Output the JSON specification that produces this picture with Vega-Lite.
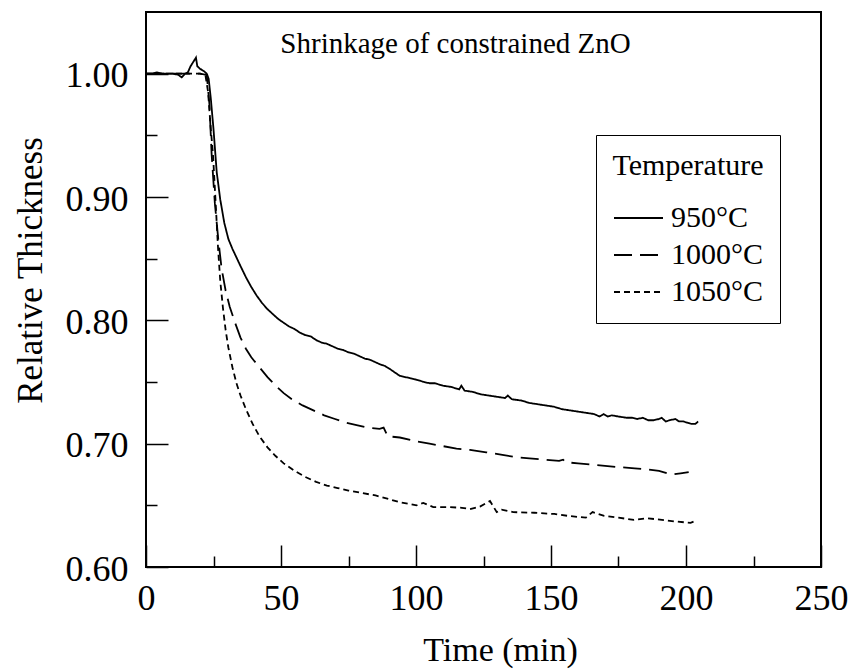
{
  "$schema": "https://vega.github.io/schema/vega-lite/v6.json",
  "width": 675,
  "height": 555,
  "autosize": {"type": "none"},
  "padding": {"left": 146, "top": 12, "right": 31, "bottom": 104},
  "config": {
    "font": "Liberation Serif",
    "view": {"stroke": "#000", "strokeWidth": 2}
  },
  "title": {
    "text": "Shrinkage of constrained ZnO",
    "font": "Liberation Serif",
    "fontSize": 29,
    "fontWeight": "normal",
    "color": "#000",
    "anchor": "middle",
    "frame": "group",
    "baseline": "alphabetic",
    "offset": 0,
    "dx": -28,
    "dy": 70
  },
  "datasets": {
    "curves": [
      {"time": 0, "thickness": 1.000, "temperature": "950°C"},
      {"time": 2, "thickness": 1.000, "temperature": "950°C"},
      {"time": 4, "thickness": 1.001, "temperature": "950°C"},
      {"time": 6, "thickness": 1.000, "temperature": "950°C"},
      {"time": 8, "thickness": 1.000, "temperature": "950°C"},
      {"time": 10, "thickness": 1.000, "temperature": "950°C"},
      {"time": 12, "thickness": 0.999, "temperature": "950°C"},
      {"time": 13.2, "thickness": 0.997, "temperature": "950°C"},
      {"time": 14.5, "thickness": 1.000, "temperature": "950°C"},
      {"time": 15.5, "thickness": 1.001, "temperature": "950°C"},
      {"time": 16.5, "thickness": 1.006, "temperature": "950°C"},
      {"time": 18.5, "thickness": 1.013, "temperature": "950°C"},
      {"time": 19, "thickness": 1.006, "temperature": "950°C"},
      {"time": 20, "thickness": 1.004, "temperature": "950°C"},
      {"time": 21.5, "thickness": 1.002, "temperature": "950°C"},
      {"time": 22.5, "thickness": 1.000, "temperature": "950°C"},
      {"time": 23.2, "thickness": 0.996, "temperature": "950°C"},
      {"time": 24, "thickness": 0.980, "temperature": "950°C"},
      {"time": 25, "thickness": 0.955, "temperature": "950°C"},
      {"time": 26.2, "thickness": 0.920, "temperature": "950°C"},
      {"time": 27.5, "thickness": 0.898, "temperature": "950°C"},
      {"time": 29, "thickness": 0.879, "temperature": "950°C"},
      {"time": 30.5, "thickness": 0.866, "temperature": "950°C"},
      {"time": 32, "thickness": 0.858, "temperature": "950°C"},
      {"time": 33.5, "thickness": 0.851, "temperature": "950°C"},
      {"time": 35, "thickness": 0.844, "temperature": "950°C"},
      {"time": 37, "thickness": 0.835, "temperature": "950°C"},
      {"time": 39, "thickness": 0.827, "temperature": "950°C"},
      {"time": 41, "thickness": 0.820, "temperature": "950°C"},
      {"time": 43, "thickness": 0.814, "temperature": "950°C"},
      {"time": 45, "thickness": 0.809, "temperature": "950°C"},
      {"time": 47, "thickness": 0.805, "temperature": "950°C"},
      {"time": 49, "thickness": 0.801, "temperature": "950°C"},
      {"time": 51, "thickness": 0.798, "temperature": "950°C"},
      {"time": 53, "thickness": 0.795, "temperature": "950°C"},
      {"time": 55, "thickness": 0.793, "temperature": "950°C"},
      {"time": 57, "thickness": 0.790, "temperature": "950°C"},
      {"time": 59, "thickness": 0.788, "temperature": "950°C"},
      {"time": 61, "thickness": 0.787, "temperature": "950°C"},
      {"time": 63, "thickness": 0.784, "temperature": "950°C"},
      {"time": 65, "thickness": 0.782, "temperature": "950°C"},
      {"time": 67, "thickness": 0.781, "temperature": "950°C"},
      {"time": 69, "thickness": 0.779, "temperature": "950°C"},
      {"time": 71, "thickness": 0.777, "temperature": "950°C"},
      {"time": 73, "thickness": 0.776, "temperature": "950°C"},
      {"time": 75, "thickness": 0.774, "temperature": "950°C"},
      {"time": 77, "thickness": 0.773, "temperature": "950°C"},
      {"time": 79, "thickness": 0.771, "temperature": "950°C"},
      {"time": 81, "thickness": 0.769, "temperature": "950°C"},
      {"time": 83, "thickness": 0.768, "temperature": "950°C"},
      {"time": 85, "thickness": 0.766, "temperature": "950°C"},
      {"time": 87, "thickness": 0.764, "temperature": "950°C"},
      {"time": 88.5, "thickness": 0.763, "temperature": "950°C"},
      {"time": 90, "thickness": 0.761, "temperature": "950°C"},
      {"time": 92, "thickness": 0.758, "temperature": "950°C"},
      {"time": 94, "thickness": 0.755, "temperature": "950°C"},
      {"time": 96, "thickness": 0.754, "temperature": "950°C"},
      {"time": 98, "thickness": 0.753, "temperature": "950°C"},
      {"time": 100, "thickness": 0.752, "temperature": "950°C"},
      {"time": 103, "thickness": 0.750, "temperature": "950°C"},
      {"time": 105, "thickness": 0.749, "temperature": "950°C"},
      {"time": 107, "thickness": 0.749, "temperature": "950°C"},
      {"time": 110, "thickness": 0.747, "temperature": "950°C"},
      {"time": 113, "thickness": 0.746, "temperature": "950°C"},
      {"time": 116, "thickness": 0.744, "temperature": "950°C"},
      {"time": 116.8, "thickness": 0.747, "temperature": "950°C"},
      {"time": 118, "thickness": 0.743, "temperature": "950°C"},
      {"time": 121, "thickness": 0.742, "temperature": "950°C"},
      {"time": 124, "thickness": 0.740, "temperature": "950°C"},
      {"time": 127, "thickness": 0.739, "temperature": "950°C"},
      {"time": 130, "thickness": 0.738, "temperature": "950°C"},
      {"time": 133, "thickness": 0.737, "temperature": "950°C"},
      {"time": 134, "thickness": 0.739, "temperature": "950°C"},
      {"time": 135.5, "thickness": 0.736, "temperature": "950°C"},
      {"time": 139, "thickness": 0.735, "temperature": "950°C"},
      {"time": 142, "thickness": 0.733, "temperature": "950°C"},
      {"time": 145, "thickness": 0.732, "temperature": "950°C"},
      {"time": 148, "thickness": 0.731, "temperature": "950°C"},
      {"time": 151, "thickness": 0.730, "temperature": "950°C"},
      {"time": 154, "thickness": 0.728, "temperature": "950°C"},
      {"time": 157, "thickness": 0.727, "temperature": "950°C"},
      {"time": 160, "thickness": 0.726, "temperature": "950°C"},
      {"time": 163, "thickness": 0.725, "temperature": "950°C"},
      {"time": 166, "thickness": 0.724, "temperature": "950°C"},
      {"time": 168, "thickness": 0.722, "temperature": "950°C"},
      {"time": 169.5, "thickness": 0.724, "temperature": "950°C"},
      {"time": 171, "thickness": 0.722, "temperature": "950°C"},
      {"time": 172.5, "thickness": 0.723, "temperature": "950°C"},
      {"time": 175, "thickness": 0.722, "temperature": "950°C"},
      {"time": 178, "thickness": 0.721, "temperature": "950°C"},
      {"time": 180, "thickness": 0.721, "temperature": "950°C"},
      {"time": 182, "thickness": 0.720, "temperature": "950°C"},
      {"time": 184, "thickness": 0.721, "temperature": "950°C"},
      {"time": 186, "thickness": 0.719, "temperature": "950°C"},
      {"time": 188, "thickness": 0.719, "temperature": "950°C"},
      {"time": 190, "thickness": 0.720, "temperature": "950°C"},
      {"time": 191, "thickness": 0.721, "temperature": "950°C"},
      {"time": 192.5, "thickness": 0.718, "temperature": "950°C"},
      {"time": 194, "thickness": 0.719, "temperature": "950°C"},
      {"time": 196, "thickness": 0.720, "temperature": "950°C"},
      {"time": 197.5, "thickness": 0.718, "temperature": "950°C"},
      {"time": 199, "thickness": 0.718, "temperature": "950°C"},
      {"time": 200.5, "thickness": 0.717, "temperature": "950°C"},
      {"time": 202, "thickness": 0.716, "temperature": "950°C"},
      {"time": 203.5, "thickness": 0.716, "temperature": "950°C"},
      {"time": 204.5, "thickness": 0.718, "temperature": "950°C"},

      {"time": 0, "thickness": 1.000, "temperature": "1000°C"},
      {"time": 5, "thickness": 1.000, "temperature": "1000°C"},
      {"time": 10, "thickness": 1.000, "temperature": "1000°C"},
      {"time": 15, "thickness": 1.000, "temperature": "1000°C"},
      {"time": 20, "thickness": 1.000, "temperature": "1000°C"},
      {"time": 22.5, "thickness": 0.999, "temperature": "1000°C"},
      {"time": 23.5, "thickness": 0.975, "temperature": "1000°C"},
      {"time": 24.3, "thickness": 0.935, "temperature": "1000°C"},
      {"time": 25.5, "thickness": 0.895, "temperature": "1000°C"},
      {"time": 26.8, "thickness": 0.865, "temperature": "1000°C"},
      {"time": 28, "thickness": 0.842, "temperature": "1000°C"},
      {"time": 29.5, "thickness": 0.824, "temperature": "1000°C"},
      {"time": 31, "thickness": 0.811, "temperature": "1000°C"},
      {"time": 33, "thickness": 0.798, "temperature": "1000°C"},
      {"time": 35, "thickness": 0.786, "temperature": "1000°C"},
      {"time": 37, "thickness": 0.777, "temperature": "1000°C"},
      {"time": 39, "thickness": 0.770, "temperature": "1000°C"},
      {"time": 42, "thickness": 0.762, "temperature": "1000°C"},
      {"time": 45, "thickness": 0.754, "temperature": "1000°C"},
      {"time": 48, "thickness": 0.747, "temperature": "1000°C"},
      {"time": 51, "thickness": 0.741, "temperature": "1000°C"},
      {"time": 54, "thickness": 0.736, "temperature": "1000°C"},
      {"time": 58, "thickness": 0.731, "temperature": "1000°C"},
      {"time": 62, "thickness": 0.727, "temperature": "1000°C"},
      {"time": 66, "thickness": 0.723, "temperature": "1000°C"},
      {"time": 70, "thickness": 0.720, "temperature": "1000°C"},
      {"time": 74, "thickness": 0.717, "temperature": "1000°C"},
      {"time": 78, "thickness": 0.715, "temperature": "1000°C"},
      {"time": 82, "thickness": 0.713, "temperature": "1000°C"},
      {"time": 86.5, "thickness": 0.712, "temperature": "1000°C"},
      {"time": 88, "thickness": 0.713, "temperature": "1000°C"},
      {"time": 89.5, "thickness": 0.706, "temperature": "1000°C"},
      {"time": 94, "thickness": 0.705, "temperature": "1000°C"},
      {"time": 100, "thickness": 0.702, "temperature": "1000°C"},
      {"time": 105, "thickness": 0.700, "temperature": "1000°C"},
      {"time": 110, "thickness": 0.698, "temperature": "1000°C"},
      {"time": 115, "thickness": 0.696, "temperature": "1000°C"},
      {"time": 120, "thickness": 0.695, "temperature": "1000°C"},
      {"time": 126, "thickness": 0.693, "temperature": "1000°C"},
      {"time": 132, "thickness": 0.691, "temperature": "1000°C"},
      {"time": 137, "thickness": 0.689, "temperature": "1000°C"},
      {"time": 142, "thickness": 0.688, "temperature": "1000°C"},
      {"time": 148, "thickness": 0.687, "temperature": "1000°C"},
      {"time": 153, "thickness": 0.686, "temperature": "1000°C"},
      {"time": 154.5, "thickness": 0.687, "temperature": "1000°C"},
      {"time": 155.5, "thickness": 0.685, "temperature": "1000°C"},
      {"time": 160, "thickness": 0.684, "temperature": "1000°C"},
      {"time": 165, "thickness": 0.683, "temperature": "1000°C"},
      {"time": 170, "thickness": 0.682, "temperature": "1000°C"},
      {"time": 175, "thickness": 0.681, "temperature": "1000°C"},
      {"time": 181, "thickness": 0.680, "temperature": "1000°C"},
      {"time": 186, "thickness": 0.679, "temperature": "1000°C"},
      {"time": 190, "thickness": 0.678, "temperature": "1000°C"},
      {"time": 193, "thickness": 0.676, "temperature": "1000°C"},
      {"time": 195, "thickness": 0.675, "temperature": "1000°C"},
      {"time": 198, "thickness": 0.676, "temperature": "1000°C"},
      {"time": 201, "thickness": 0.677, "temperature": "1000°C"},

      {"time": 0, "thickness": 1.000, "temperature": "1050°C"},
      {"time": 5, "thickness": 1.000, "temperature": "1050°C"},
      {"time": 10, "thickness": 1.000, "temperature": "1050°C"},
      {"time": 15, "thickness": 1.000, "temperature": "1050°C"},
      {"time": 20, "thickness": 1.000, "temperature": "1050°C"},
      {"time": 22, "thickness": 0.999, "temperature": "1050°C"},
      {"time": 23, "thickness": 0.985, "temperature": "1050°C"},
      {"time": 24, "thickness": 0.955, "temperature": "1050°C"},
      {"time": 24.8, "thickness": 0.935, "temperature": "1050°C"},
      {"time": 25.8, "thickness": 0.895, "temperature": "1050°C"},
      {"time": 26.7, "thickness": 0.858, "temperature": "1050°C"},
      {"time": 27.5, "thickness": 0.832, "temperature": "1050°C"},
      {"time": 28.5, "thickness": 0.810, "temperature": "1050°C"},
      {"time": 29.5, "thickness": 0.792, "temperature": "1050°C"},
      {"time": 30.5, "thickness": 0.778, "temperature": "1050°C"},
      {"time": 32, "thickness": 0.762, "temperature": "1050°C"},
      {"time": 33.5, "thickness": 0.749, "temperature": "1050°C"},
      {"time": 35, "thickness": 0.739, "temperature": "1050°C"},
      {"time": 37, "thickness": 0.728, "temperature": "1050°C"},
      {"time": 39.5, "thickness": 0.716, "temperature": "1050°C"},
      {"time": 42, "thickness": 0.706, "temperature": "1050°C"},
      {"time": 45, "thickness": 0.697, "temperature": "1050°C"},
      {"time": 48, "thickness": 0.690, "temperature": "1050°C"},
      {"time": 51, "thickness": 0.684, "temperature": "1050°C"},
      {"time": 55, "thickness": 0.678, "temperature": "1050°C"},
      {"time": 59, "thickness": 0.673, "temperature": "1050°C"},
      {"time": 63, "thickness": 0.669, "temperature": "1050°C"},
      {"time": 67, "thickness": 0.666, "temperature": "1050°C"},
      {"time": 71, "thickness": 0.664, "temperature": "1050°C"},
      {"time": 75, "thickness": 0.662, "temperature": "1050°C"},
      {"time": 80, "thickness": 0.660, "temperature": "1050°C"},
      {"time": 85, "thickness": 0.658, "temperature": "1050°C"},
      {"time": 90, "thickness": 0.655, "temperature": "1050°C"},
      {"time": 94, "thickness": 0.6525, "temperature": "1050°C"},
      {"time": 98, "thickness": 0.651, "temperature": "1050°C"},
      {"time": 100.2, "thickness": 0.650, "temperature": "1050°C"},
      {"time": 102.7, "thickness": 0.652, "temperature": "1050°C"},
      {"time": 106.4, "thickness": 0.6485, "temperature": "1050°C"},
      {"time": 112.6, "thickness": 0.6485, "temperature": "1050°C"},
      {"time": 117, "thickness": 0.648, "temperature": "1050°C"},
      {"time": 120, "thickness": 0.647, "temperature": "1050°C"},
      {"time": 123.7, "thickness": 0.649, "temperature": "1050°C"},
      {"time": 127.4, "thickness": 0.6535, "temperature": "1050°C"},
      {"time": 129.9, "thickness": 0.6445, "temperature": "1050°C"},
      {"time": 131.7, "thickness": 0.6465, "temperature": "1050°C"},
      {"time": 136, "thickness": 0.6445, "temperature": "1050°C"},
      {"time": 143.8, "thickness": 0.644, "temperature": "1050°C"},
      {"time": 151.2, "thickness": 0.643, "temperature": "1050°C"},
      {"time": 156.1, "thickness": 0.6415, "temperature": "1050°C"},
      {"time": 162.9, "thickness": 0.640, "temperature": "1050°C"},
      {"time": 165.4, "thickness": 0.6445, "temperature": "1050°C"},
      {"time": 169.7, "thickness": 0.6415, "temperature": "1050°C"},
      {"time": 175, "thickness": 0.640, "temperature": "1050°C"},
      {"time": 180.7, "thickness": 0.6382, "temperature": "1050°C"},
      {"time": 185.7, "thickness": 0.6395, "temperature": "1050°C"},
      {"time": 191.9, "thickness": 0.638, "temperature": "1050°C"},
      {"time": 195.6, "thickness": 0.637, "temperature": "1050°C"},
      {"time": 201.7, "thickness": 0.6358, "temperature": "1050°C"},
      {"time": 203, "thickness": 0.637, "temperature": "1050°C"}
    ]
  },
  "layer": [
    {
      "data": {"name": "curves"},
      "mark": {"type": "line", "color": "#000", "strokeWidth": 1.8},
      "encoding": {
        "x": {
          "field": "time",
          "type": "quantitative",
          "scale": {"domain": [0, 250], "nice": false, "zero": true},
          "axis": {
            "orient": "bottom",
            "values": [0, 50, 100, 150, 200, 250],
            "domain": false,
            "grid": false,
            "tickSize": -22,
            "tickWidth": 1.5,
            "tickColor": "#000",
            "labelFont": "Liberation Serif",
            "labelFontSize": 36,
            "labelColor": "#000",
            "labelBaseline": "alphabetic",
            "labelPadding": 64,
            "labelFlush": false,
            "labelOverlap": false,
            "title": "Time (min)",
            "titleFont": "Liberation Serif",
            "titleFontSize": 34,
            "titleFontWeight": "normal",
            "titleColor": "#000",
            "titleAlign": "center",
            "titleBaseline": "alphabetic",
            "titleX": 354,
            "titleY": 93
          }
        },
        "y": {
          "field": "thickness",
          "type": "quantitative",
          "scale": {"domain": [0.6, 1.05], "nice": false, "zero": false},
          "axis": {
            "orient": "left",
            "values": [0.6, 0.7, 0.8, 0.9, 1.0],
            "format": ".2f",
            "domain": false,
            "grid": false,
            "tickSize": -22,
            "tickWidth": 1.5,
            "tickColor": "#000",
            "labelFont": "Liberation Serif",
            "labelFontSize": 36,
            "labelColor": "#000",
            "labelPadding": 40,
            "labelOffset": 2,
            "labelFlush": false,
            "labelOverlap": false,
            "title": "Relative Thickness",
            "titleFont": "Liberation Serif",
            "titleFontSize": 35,
            "titleFontWeight": "normal",
            "titleColor": "#000",
            "titleAngle": -90,
            "titleAlign": "center",
            "titleBaseline": "alphabetic",
            "titleX": -105,
            "titleY": 258
          }
        },
        "strokeDash": {
          "field": "temperature",
          "type": "nominal",
          "scale": {
            "domain": ["950°C", "1000°C", "1050°C"],
            "range": [[1, 0], [18, 8], [6, 4]]
          },
          "legend": {
            "orient": "none",
            "legendX": 450,
            "legendY": 123,
            "title": "Temperature",
            "titleFont": "Liberation Serif",
            "titleFontSize": 30,
            "titleFontWeight": "normal",
            "titleColor": "#000",
            "titleAnchor": "middle",
            "titlePadding": 22,
            "labelFont": "Liberation Serif",
            "labelFontSize": 30,
            "labelColor": "#000",
            "labelOffset": 7,
            "labelLimit": 300,
            "symbolType": "stroke",
            "symbolSize": 2401,
            "symbolStrokeWidth": 1.8,
            "symbolStrokeColor": "#000",
            "strokeColor": "#000",
            "padding": 16,
            "rowPadding": 7,
            "clipHeight": 30
          }
        }
      }
    },
    {
      "data": {"name": "curves"},
      "mark": {"type": "point", "opacity": 0},
      "encoding": {
        "x": {
          "field": "time",
          "type": "quantitative",
          "axis": {
            "orient": "bottom",
            "values": [25, 75, 125, 175, 225],
            "domain": false,
            "grid": false,
            "labels": false,
            "tickSize": -11,
            "tickWidth": 1.5,
            "tickColor": "#000",
            "title": null
          }
        },
        "y": {
          "field": "thickness",
          "type": "quantitative",
          "axis": {
            "orient": "left",
            "values": [0.65, 0.75, 0.85, 0.95],
            "domain": false,
            "grid": false,
            "labels": false,
            "tickSize": -11,
            "tickWidth": 1.5,
            "tickColor": "#000",
            "title": null
          }
        }
      }
    }
  ],
  "resolve": {"axis": {"x": "independent", "y": "independent"}}
}
